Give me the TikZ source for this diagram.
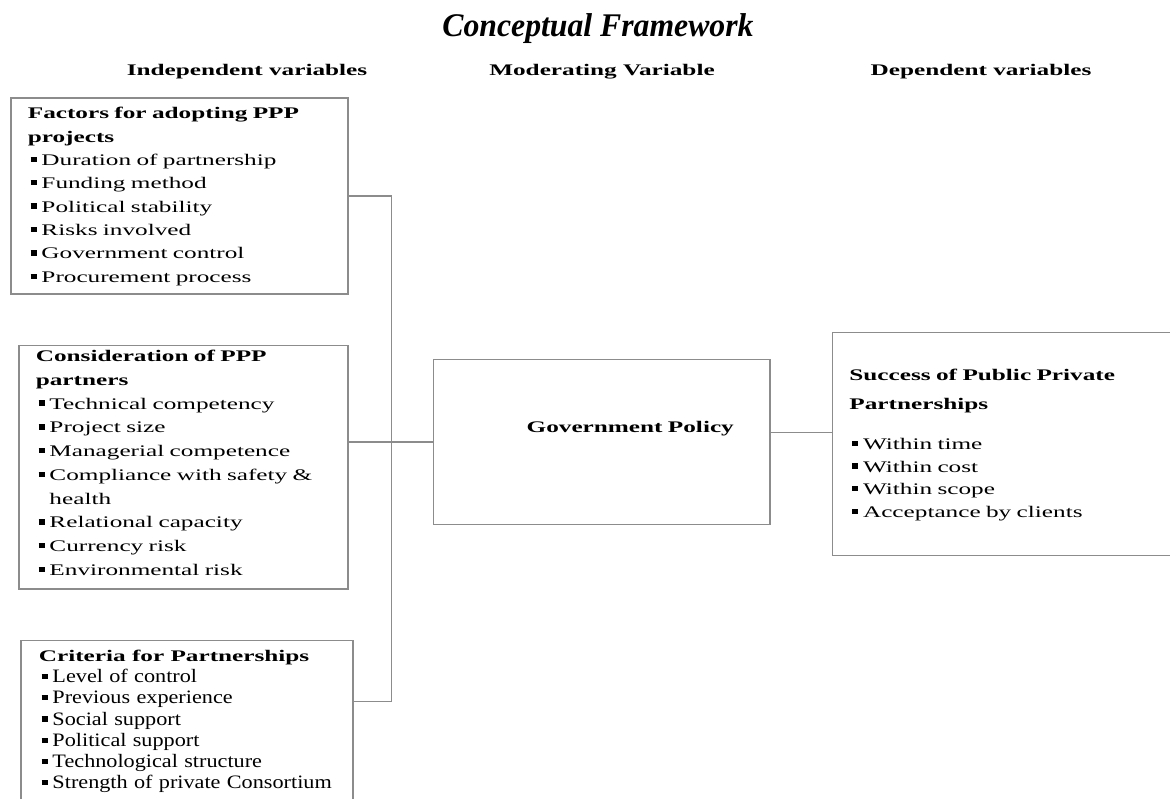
\documentclass[tikz,border=0pt]{standalone}
\usepackage{fontspec}
\setmainfont{Liberation Serif}
\newfontfamily\widefont[FakeStretch=1.56]{Liberation Serif}
\newfontfamily\crifont[FakeStretch=1.17]{Liberation Serif}
\newfontfamily\titlefont[FakeStretch=0.96]{Liberation Serif}
\usetikzlibrary{positioning,calc}
\definecolor{framegray}{RGB}{140,140,140}

% square bullet for the list entries, and the indent of a wrapped entry
\newcommand\bul{\mbox{\hspace{2pt}\rule[2.4pt]{4.2pt}{3.8pt}}\hspace{3.5pt}}
\newcommand\bulgap{\hspace*{9.7pt}}

\begin{document}
\begin{tikzpicture}[
  x=0.025cm, y=-0.025cm,
  box/.style={draw=framegray, line width=1.2pt, anchor=north west, align=left,
              inner xsep=0.425cm, inner ysep=0pt},
  head/.style={font=\widefont\bfseries\fontsize{11.5}{13}\selectfont, anchor=base},
  link/.style={draw=framegray, line width=1pt}
]
\useasboundingbox (0,0) rectangle (1170,799);

% Title and column headings
\node[anchor=base, font=\titlefont\bfseries\itshape\fontsize{23.5}{26}\selectfont]
  (title) at (598,37) {Conceptual Framework};
\node[head] (indep) at (247,76) {Independent variables};
\node[head] (moder) at (602,76) {Moderating Variable};
\node[head] (dep) at (981,76) {Dependent variables};

% Independent variables
\node[box, text width=7.575cm, text height=0.525cm, text depth=4.375cm,
      font=\widefont\fontsize{11.5}{16.6}\selectfont] (fac) at (10,97) {
  \textbf{Factors for adopting PPP}\\
  \textbf{projects}\\
  \bul Duration of partnership\\
  \bul Funding method\\
  \bul Political stability\\
  \bul Risks involved\\
  \bul Government control\\
  \bul Procurement process};

\node[box, below=1.25cm of fac.south west, anchor=north west, xshift=0.2cm,
      text width=7.375cm, text height=0.4cm, text depth=5.675cm,
      font=\widefont\fontsize{11.5}{16.9}\selectfont] (con) {
  \textbf{Consideration of PPP}\\
  \textbf{partners}\\
  \bul Technical competency\\
  \bul Project size\\
  \bul Managerial competence\\
  \bul Compliance with safety \&\\
  \bulgap health\\
  \bul Relational capacity\\
  \bul Currency risk\\
  \bul Environmental risk};

\node[box, below=1.25cm of con.south west, anchor=north west, xshift=0.05cm,
      inner xsep=0.45cm, text width=7.4cm, text height=0.525cm, text depth=4.6cm,
      font=\crifont\fontsize{13.5}{15.1}\selectfont] (cri) {
  {\widefont\bfseries\fontsize{11.5}{15.1}\selectfont Criteria for Partnerships}\\
  \bul Level of control\\
  \bul Previous experience\\
  \bul Social support\\
  \bul Political support\\
  \bul Technological structure\\
  \mbox{\bul Strength of private Consortium}};

% Moderating variable
\node[box, right=2.1cm of con.north east, anchor=north west, yshift=-0.35cm,
      inner xsep=0pt, text width=8.4cm, text height=1.825cm, text depth=2.3cm,
      font=\widefont\bfseries\fontsize{11.5}{13}\selectfont] (pol) {
  \hspace*{2.325cm}Government Policy};

% Dependent variable
\node[box, right=1.525cm of pol.north east, anchor=north west, yshift=0.675cm,
      text width=8.1cm, text height=1.2cm, text depth=4.375cm,
      font=\widefont\fontsize{11.5}{16.1}\selectfont] (suc) {
  \textbf{Success of Public Private}\\[4.5pt]
  \textbf{Partnerships}\\[12.2pt]
  \bul Within time\\
  \bul Within cost\\
  \bul Within scope\\
  \bul Acceptance by clients};

% Links
\coordinate (bus) at ($(fac.east)+(1.075cm,0)$);
\coordinate (cri-in) at ($(cri.north east)+(0,-1.55cm)$);
\coordinate (pol-out) at ($(pol.east)+(0,0.24cm)$);
\draw[link] (fac.east) -- (bus) |- (cri-in);
\draw[link] (pol.west) -- (pol.west -| con.east);
\draw[link] (pol-out) -- (pol-out -| suc.west);

\end{tikzpicture}
\end{document}
